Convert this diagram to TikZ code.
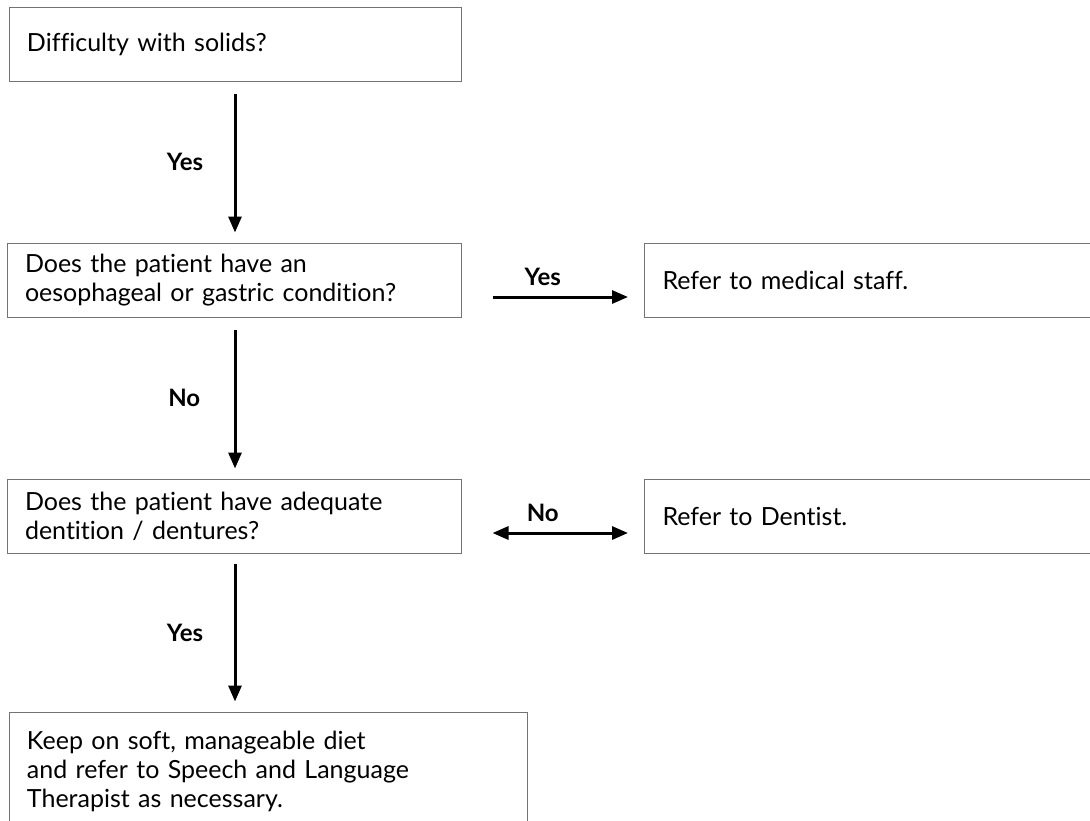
\documentclass[tikz,border=0pt]{standalone}
\usepackage{fontspec}
\setmainfont{Lato}[Ligatures=NoCommon]
\usetikzlibrary{arrows.meta,calc}
\begin{document}
\begin{tikzpicture}[x=1pt,y=-1pt,
  box/.style={draw=black!55,line width=1pt,rectangle,inner xsep=18pt,inner ysep=0pt,
    align=left,font=\fontsize{25}{29}\selectfont,anchor=center},
  conn/.style={line width=3pt,-{Triangle[length=16pt,width=13pt]}},
  dconn/.style={line width=3pt,{Triangle[length=16pt,width=13pt]}-{Triangle[length=16pt,width=13pt]}},
  lab/.style={font=\fontsize{24}{28}\selectfont\bfseries}]
\useasboundingbox (0,0) rectangle (1090,820);
\node[box,minimum width=452pt,minimum height=74pt,text width=416pt] (b1) at (235,44) {Difficulty with solids?};
\node[box,minimum width=454pt,minimum height=74pt,text width=418pt] (b2) at (234,280) {Does the patient have an\\oesophageal or gastric condition?};
\node[box,minimum width=455pt,minimum height=74pt,text width=419pt] (b3) at (872,280) {Refer to medical staff.};
\node[box,minimum width=454pt,minimum height=74pt,text width=418pt] (b4) at (234,516) {Does the patient have adequate\\dentition / dentures?};
\node[box,minimum width=455pt,minimum height=74pt,text width=419pt] (b5) at (872,516) {Refer to Dentist.};
\node[box,minimum width=518pt,minimum height=118pt,text width=482pt] (b6) at (268,771) {Keep on soft, manageable diet\\and refer to Speech and Language\\Therapist as necessary.};
\draw[conn,shorten <=12pt,shorten >=10pt] (b1.south) -- node[lab,left=27pt]{Yes} (b1.south |- b2.north);
\draw[conn,shorten <=12pt,shorten >=10pt] (b2.south -| b1.south) -- node[lab,left=30pt]{No} (b4.north -| b1.south);
\draw[conn,shorten <=10pt,shorten >=10pt] (b4.south -| b1.south) -- node[lab,left=27pt]{Yes} (b6.north -| b1.south);
\draw[conn,shorten <=31pt,shorten >=16pt] ([yshift=-17pt]b2.east) -- node[lab,above=6pt,xshift=-10pt]{Yes} ([yshift=-17pt]b2.east -| b3.west);
\draw[dconn,shorten <=31pt,shorten >=16pt] ([yshift=-17pt]b4.east) -- node[lab,above=6pt,xshift=-10pt]{No} ([yshift=-17pt]b4.east -| b5.west);
\end{tikzpicture}
\end{document}
